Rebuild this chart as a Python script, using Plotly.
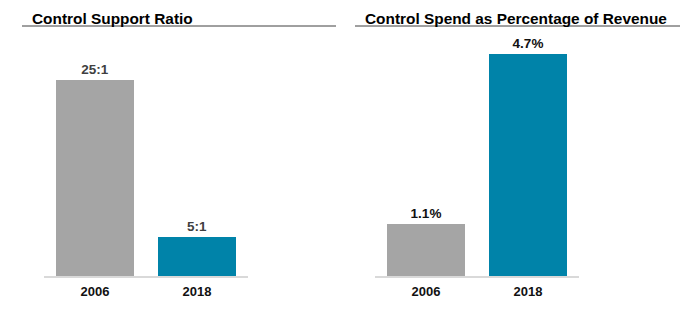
import plotly.graph_objects as go

W, H = 693, 332

# Data
years = ["2006", "2018"]
support_ratio = [25, 5]
support_labels = ["25:1", "5:1"]
spend_pct = [1.1, 4.7]
spend_labels = ["1.1%", "4.7%"]
bar_colors = ["#A5A5A5", "#0083A9"]
titles = ["Control Support Ratio", "Control Spend as Percentage of Revenue"]

FONT = "Arial, Liberation Sans, sans-serif"

def px_x(p):
    return p / W

def px_y(p):
    return (H - p) / H

fig = go.Figure()

fig.add_trace(go.Bar(
    x=years, y=support_ratio, text=support_labels, textposition="outside",
    textfont=dict(family=FONT, size=13.5, color="#404040", weight="bold"),
    marker=dict(color=bar_colors, line=dict(width=0)),
    width=0.765, cliponaxis=False, xaxis="x", yaxis="y", showlegend=False,
    hoverinfo="skip",
))
fig.add_trace(go.Bar(
    x=years, y=spend_pct, text=spend_labels, textposition="outside",
    textfont=dict(family=FONT, size=13.5, color="#111111", weight="bold"),
    marker=dict(color=bar_colors, line=dict(width=0)),
    width=0.765, cliponaxis=False, xaxis="x2", yaxis="y2", showlegend=False,
    hoverinfo="skip",
))

y_dom = [px_y(276), px_y(30)]
common_x = dict(
    type="category", range=[-0.5, 1.5], showline=True, linecolor="#D9D9D9",
    linewidth=2, showgrid=False, zeroline=False, ticks="outside", ticklen=2,
    tickcolor="rgba(0,0,0,0)",
    tickfont=dict(family=FONT, size=13, color="#111111", weight="bold"),
    fixedrange=True,
)
common_y = dict(visible=False, showgrid=False, zeroline=False, fixedrange=True)

fig.update_layout(
    width=W, height=H, autosize=False,
    margin=dict(l=0, r=0, t=0, b=0),
    paper_bgcolor="white", plot_bgcolor="white",
    xaxis=dict(domain=[px_x(44), px_x(248)], anchor="y", **common_x),
    xaxis2=dict(domain=[px_x(375), px_x(579)], anchor="y2", **common_x),
    yaxis=dict(domain=y_dom, range=[0, 31.38], anchor="x", **common_y),
    yaxis2=dict(domain=y_dom, range=[0, 5.215], anchor="x2", **common_y),
    bargap=0,
    font=dict(family=FONT),
)

# Titles and underline rules
title_pos = [(30, 22, 336), (362.7, 355, 680)]
for t, (tx, lx0, lx1) in zip(titles, title_pos):
    fig.add_annotation(
        text=t, x=px_x(tx), y=px_y(18), xref="paper", yref="paper",
        xanchor="left", yanchor="middle", showarrow=False,
        font=dict(family=FONT, size=15.4, color="#000000", weight="bold"),
    )
    fig.add_shape(
        type="line", xref="paper", yref="paper",
        x0=px_x(lx0), x1=px_x(lx1), y0=px_y(26), y1=px_y(26),
        line=dict(color="#404040", width=1),
    )

fig.write_html("out.html", config={"displayModeBar": False})
